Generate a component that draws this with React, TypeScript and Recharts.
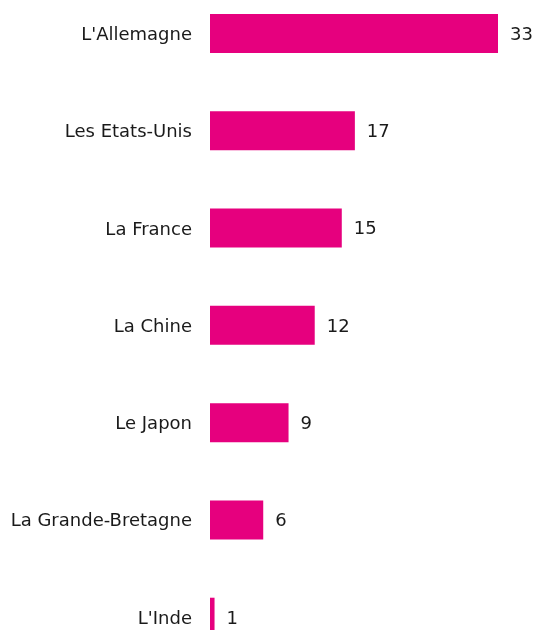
import React from 'react';
import { BarChart, Bar, XAxis, YAxis, LabelList } from 'recharts';

const countries = [
  "L'Allemagne",
  'Les Etats-Unis',
  'La France',
  'La Chine',
  'Le Japon',
  'La Grande-Bretagne',
  "L'Inde",
];
const values = [33, 16.6, 15.1, 12, 9, 6.1, 0.52];
const valueLabels = ['33', '17', '15', '12', '9', '6', '1'];

const data = countries.map((c, i) => ({ name: c, value: values[i], label: valueLabels[i] }));

const FONT = '"DejaVu Sans", Verdana, sans-serif';

export default function App() {
  return (
    <div style={{ position: 'fixed', left: 0, top: -15.2 }}>
      <BarChart
        width={533}
        height={681}
        data={data}
        layout="vertical"
        margin={{ top: 0, right: 35, bottom: 0, left: 0 }}
      >
        <XAxis type="number" domain={[0, 33]} hide />
        <YAxis
          type="category"
          dataKey="name"
          width={210}
          axisLine={false}
          tickLine={false}
          tickSize={0}
          tickMargin={18}
          interval={0}
          tick={{ fill: '#1a1a1a', fontSize: 18, fontFamily: FONT }}
        />
        <Bar dataKey="value" fill="#e6007e" barSize={39} isAnimationActive={false}>
          <LabelList
            dataKey="label"
            position="right"
            offset={12}
            style={{ fill: '#1a1a1a', fontSize: 18, fontFamily: FONT }}
          />
        </Bar>
      </BarChart>
    </div>
  );
}
